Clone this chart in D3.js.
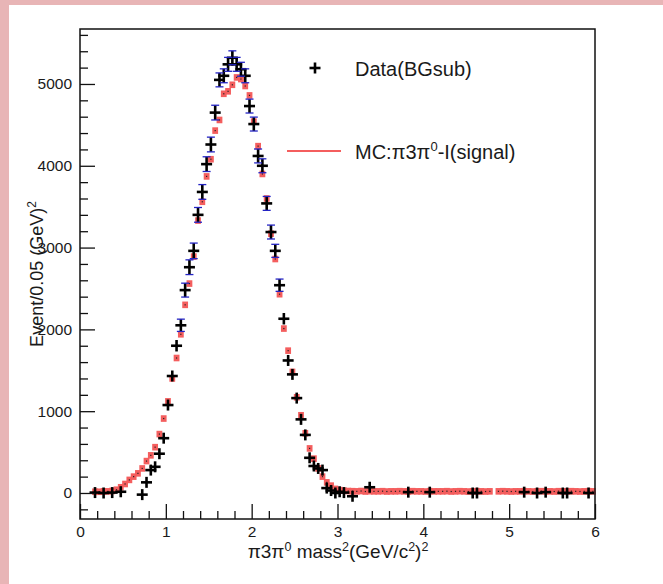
<!DOCTYPE html>
<html>
<head>
<meta charset="utf-8">
<script src="https://cdn.jsdelivr.net/npm/d3@7"></script>
<style>
  html, body { margin: 0; padding: 0; background: #ffffff; }
  svg { display: block; }
  text { font-family: "Liberation Sans", Arial, Helvetica, sans-serif; fill: #1a1a1a; }
</style>
</head>
<body>
<svg id="chart" width="663" height="584"></svg>
<script>
// ---------------- data ----------------
const xTickValues = [0, 1, 2, 3, 4, 5, 6];
const yTickValues = [0, 1000, 2000, 3000, 4000, 5000];
const xDomain = [0, 6];
const yDomain = [-318, 5672];
const binHalfWidth = 0.025;

// MC: pi3pi0-I (signal), bin centres and contents
const mcX = [
  0.175,0.225,0.275,0.325,0.375,0.425,0.475,0.525,0.575,0.625,
  0.675,0.725,0.775,0.825,0.875,0.925,0.975,1.025,1.075,1.125,
  1.175,1.225,1.275,1.325,1.375,1.425,1.475,1.525,1.575,1.625,
  1.675,1.725,1.775,1.825,1.875,1.925,1.975,2.025,2.075,2.125,
  2.175,2.225,2.275,2.325,2.375,2.425,2.475,2.525,2.575,2.625,
  2.675,2.725,2.775,2.825,2.875,2.925,2.975,3.025,3.075,3.125,
  3.175,3.225,3.275,3.325,3.375,3.425,3.475,3.525,3.575,3.625,
  3.675,3.725,3.775,3.825,3.875,3.925,3.975,4.025,4.075,4.125,
  4.175,4.225,4.275,4.325,4.375,4.425,4.475,4.525,4.575,4.625,
  4.675,4.725,4.775,4.875,4.925,4.975,5.025,5.075,5.125,
  5.175,5.225,5.275,5.325,5.375,5.425,5.475,5.525,5.575,5.625,
  5.675,5.725,5.775,5.825,5.875,5.925,5.975
];
const mcY = [
  15,15,20,20,25,40,70,110,160,200,
  240,300,390,460,560,720,910,1120,1400,1650,
  1940,2300,2560,2890,3330,3560,3870,4080,4430,4560,
  4880,4910,4990,5080,5060,4975,4860,4540,4240,3900,
  3600,3170,2860,2430,2010,1740,1480,1170,950,730,
  545,420,300,200,130,90,50,35,28,24,
  22,20,24,18,22,20,20,22,18,20,
  20,22,20,18,22,20,20,18,22,20,
  20,20,22,18,20,22,20,18,20,22,
  20,18,20,20,22,20,18,20,20,
  22,20,18,20,22,20,20,18,22,20,
  20,22,20,18,20,22,20
];

// Data (BG subtracted): bin centres, contents, errors
const dataX = [
  0.175,0.275,0.375,0.475,0.725,0.775,0.825,0.875,0.925,0.975,
  1.025,1.075,1.125,1.175,1.225,1.275,1.325,1.375,1.425,1.475,
  1.525,1.575,1.625,1.675,1.725,1.775,1.825,1.875,1.925,1.975,
  2.025,2.075,2.125,2.175,2.225,2.275,2.325,2.375,2.425,2.475,
  2.525,2.575,2.625,2.675,2.725,2.775,2.825,2.875,2.925,2.975,
  3.025,3.075,3.175,3.375,3.825,4.075,4.575,4.625,5.175,5.325,
  5.425,5.625,5.675,5.925
];
const dataY = [
  5,0,5,15,-20,130,280,320,480,670,
  1075,1430,1800,2050,2480,2760,2960,3400,3680,4020,
  4260,4650,5050,5100,5240,5320,5240,5180,5100,4730,
  4510,4120,4000,3540,3190,2960,2540,2130,1620,1450,
  1160,900,710,430,330,300,280,60,30,0,
  15,5,-40,70,10,10,0,0,10,0,
  10,0,0,0
];
const dataErr = [
  40,40,40,40,60,60,60,60,60,60,
  65,65,70,75,85,90,95,90,90,90,
  90,90,85,85,85,85,85,85,85,85,
  85,85,85,85,85,80,75,70,65,65,
  60,60,60,60,60,60,60,60,60,60,
  60,60,60,60,60,60,60,60,60,60,
  60,60,60,60
];

const legendLabels = ["Data(BGsub)", "MC:π3π⁰-I(signal)"];

// ---------------- drawing ----------------
const svg = d3.select("#chart");
const W = 663, H = 584;
const frame = { left: 80, right: 595, top: 29, bottom: 519 };

// pink canvas border (top & left)
svg.append("rect").attr("x", 0).attr("y", 0).attr("width", W).attr("height", H).attr("fill", "#e8b5b6");
svg.append("rect").attr("x", 9).attr("y", 5).attr("width", W - 9).attr("height", H - 5).attr("fill", "#ffffff");

const x = d3.scaleLinear().domain(xDomain).range([frame.left, frame.right]);
const y = d3.scaleLinear().domain(yDomain).range([frame.bottom, frame.top]);

const plot = svg.append("g");

// x axis (ticks inside, pointing up)
const xAxis = d3.axisTop(x)
  .tickValues(d3.range(0, 6.0001, 0.2).map(v => +v.toFixed(1)))
  .tickFormat("")
  .tickSizeOuter(0)
  .tickSizeInner(8);
const gx = svg.append("g").attr("transform", `translate(0,${frame.bottom})`).call(xAxis);
gx.select(".domain").remove();
gx.selectAll(".tick line").attr("stroke", "#111").attr("stroke-width", 1.3)
  .attr("y2", d => (Math.abs(d - Math.round(d)) < 1e-6 ? -15 : -8));

const xLab = d3.axisBottom(x).tickValues(xTickValues).tickFormat(d3.format("d")).tickSize(0).tickPadding(7);
const gxl = svg.append("g").attr("transform", `translate(0,${frame.bottom})`).call(xLab);
gxl.select(".domain").remove();
gxl.selectAll("text").style("font-size", "15.5px").attr("fill", "#1a1a1a")
  .style("font-family", '"Liberation Sans", Arial, sans-serif');

// y axis (ticks inside, pointing right)
const yMinor = d3.range(-200, 5601, 200);
const yAxis = d3.axisRight(y).tickValues(yMinor).tickFormat("").tickSizeOuter(0).tickSizeInner(8);
const gy = svg.append("g").attr("transform", `translate(${frame.left},0)`).call(yAxis);
gy.select(".domain").remove();
gy.selectAll(".tick line").attr("stroke", "#111").attr("stroke-width", 1.3)
  .attr("x2", d => (d % 1000 === 0 ? 15 : 8));

const yLab = d3.axisLeft(y).tickValues(yTickValues).tickFormat(d3.format("d")).tickSize(0).tickPadding(8);
const gyl = svg.append("g").attr("transform", `translate(${frame.left},0)`).call(yLab);
gyl.select(".domain").remove();
gyl.selectAll("text").style("font-size", "15.5px").attr("fill", "#1a1a1a")
  .style("font-family", '"Liberation Sans", Arial, sans-serif');

// MC: black x-error bars, red square markers, black centre dot
const mc = mcX.map((v, i) => ({ x: v, y: mcY[i] }));
const mcG = plot.append("g");
mcG.selectAll("line.mcx").data(mc).join("line").attr("class", "mcx")
  .attr("x1", d => x(d.x - binHalfWidth)).attr("x2", d => x(d.x + binHalfWidth))
  .attr("y1", d => y(d.y)).attr("y2", d => y(d.y))
  .attr("stroke", "#333").attr("stroke-width", 1.2);
const sqW = 5.8, sqH = 6.6;
mcG.selectAll("rect.mc").data(mc).join("rect").attr("class", "mc")
  .attr("x", d => x(d.x) - sqW / 2).attr("y", d => y(d.y) - sqH / 2)
  .attr("width", sqW).attr("height", sqH).attr("fill", "#f45e5e");
mcG.selectAll("rect.mcdot").data(mc).join("rect").attr("class", "mcdot")
  .attr("x", d => x(d.x) - 0.6).attr("y", d => y(d.y) - 0.6)
  .attr("width", 1.2).attr("height", 1.2).attr("fill", "#222");

// Data: black crosses with error bars and blue caps
const data = dataX.map((v, i) => ({ x: v, y: dataY[i], e: dataErr[i] }));
const dG = plot.append("g");
const arm = 5.5;
dG.selectAll("line.ev").data(data).join("line").attr("class", "ev")
  .attr("x1", d => x(d.x)).attr("x2", d => x(d.x))
  .attr("y1", d => Math.min(y(d.y + d.e), y(d.y) - arm)).attr("y2", d => Math.max(y(d.y - d.e), y(d.y) + arm))
  .attr("stroke", "#000").attr("stroke-width", 2.6);
dG.selectAll("line.eh").data(data).join("line").attr("class", "eh")
  .attr("x1", d => x(d.x) - arm).attr("x2", d => x(d.x) + arm)
  .attr("y1", d => y(d.y)).attr("y2", d => y(d.y))
  .attr("stroke", "#000").attr("stroke-width", 2.6);
const capped = data.filter(d => Math.abs(y(d.y + d.e) - y(d.y)) > arm + 0.5);
["up", "down"].forEach(dir => {
  dG.selectAll("line.cap" + dir).data(capped).join("line").attr("class", "cap" + dir)
    .attr("x1", d => x(d.x) - 4).attr("x2", d => x(d.x) + 4)
    .attr("y1", d => y(dir === "up" ? d.y + d.e : d.y - d.e))
    .attr("y2", d => y(dir === "up" ? d.y + d.e : d.y - d.e))
    .attr("stroke", "#2424c4").attr("stroke-width", 1.3);
});

// frame
svg.append("rect").attr("x", frame.left).attr("y", frame.top)
  .attr("width", frame.right - frame.left).attr("height", frame.bottom - frame.top)
  .attr("fill", "none").attr("stroke", "#111").attr("stroke-width", 1.5);

// axis titles
const xt = svg.append("text").attr("x", 338).attr("y", 558).attr("text-anchor", "middle").style("font-size", "19px");
xt.append("tspan").text("π3π");
xt.append("tspan").attr("dy", -7).style("font-size", "12.5px").text("0");
xt.append("tspan").attr("dy", 7).text(" mass");
xt.append("tspan").attr("dy", -7).style("font-size", "12.5px").text("2");
xt.append("tspan").attr("dy", 7).text("(GeV/c");
xt.append("tspan").attr("dy", -7).style("font-size", "12.5px").text("2");
xt.append("tspan").attr("dy", 7).text(")");
xt.append("tspan").attr("dy", -7).style("font-size", "12.5px").text("2");

const yt = svg.append("text").attr("transform", "translate(43,274) rotate(-90)")
  .attr("text-anchor", "middle").style("font-size", "18px");
yt.append("tspan").text("Event/0.05 (GeV)");
yt.append("tspan").attr("dy", -7).style("font-size", "12px").text("2");

// legend
const lg = svg.append("g");
lg.append("line").attr("x1", 309.5).attr("x2", 320.5).attr("y1", 68).attr("y2", 68).attr("stroke", "#000").attr("stroke-width", 2.6);
lg.append("line").attr("x1", 315).attr("x2", 315).attr("y1", 62.5).attr("y2", 73.5).attr("stroke", "#000").attr("stroke-width", 2.6);
lg.append("text").attr("x", 355).attr("y", 76).style("font-size", "20px").text(legendLabels[0]);
lg.append("line").attr("x1", 287).attr("x2", 341).attr("y1", 151).attr("y2", 151).attr("stroke", "#f45e5e").attr("stroke-width", 2.2);
const lt = lg.append("text").attr("x", 355).attr("y", 159).style("font-size", "20px");
lt.append("tspan").text("MC:π3π");
lt.append("tspan").attr("dy", -8).style("font-size", "13px").text("0");
lt.append("tspan").attr("dy", 8).text("-I(signal)");
</script>
</body>
</html>
